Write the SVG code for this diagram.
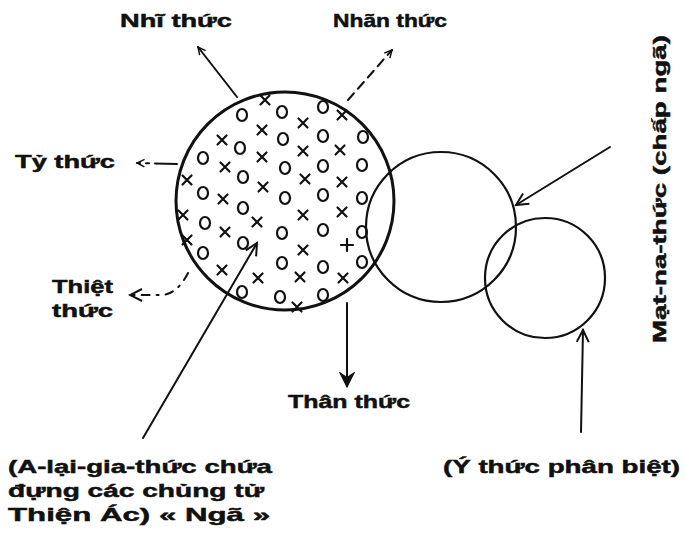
<svg xmlns="http://www.w3.org/2000/svg" width="685" height="533" viewBox="0 0 685 533">
<style>
  .lbl { font-family: "Liberation Sans", "DejaVu Sans", Arial, sans-serif; font-weight: bold; font-size: 19px; fill: #111; stroke: #111; stroke-width: 0.5; }
  .circ { fill: none; stroke: #111; }
  .conn { fill: none; stroke: #111; stroke-width: 2; stroke-linecap: round; }
  .o { fill: none; stroke: #111; stroke-width: 2.2; }
  .x { fill: none; stroke: #111; stroke-width: 2.2; stroke-linecap: round; }
</style>
<defs>
  <marker id="ah" viewBox="-14 -8 16 16" markerWidth="16" markerHeight="16" refX="0" refY="0" orient="auto" markerUnits="userSpaceOnUse">
    <path d="M-12,-6 L0,0 L-12,6" fill="none" stroke="#111" stroke-width="2"/>
  </marker>
  <marker id="ahs" viewBox="-14 -8 16 16" markerWidth="12" markerHeight="12" refX="0" refY="0" orient="auto" markerUnits="userSpaceOnUse">
    <path d="M-10,-5 L0,0 L-10,5" fill="none" stroke="#111" stroke-width="2"/>
  </marker>
  <marker id="ahb" viewBox="-14 -8 16 16" markerWidth="16" markerHeight="16" refX="0" refY="0" orient="auto" markerUnits="userSpaceOnUse">
    <path d="M-12,-6 L0,0 L-12,6 L-8,0 Z" fill="#111" stroke="#111" stroke-width="2"/>
  </marker>
  <g id="mo"><ellipse cx="0" cy="0" rx="5" ry="6" class="o"/></g>
  <g id="mx"><path d="M-4.5,-4.5 L4.5,4.5 M4.5,-4.5 L-4.5,4.5" class="x"/></g>
</defs>
<rect width="685" height="533" fill="#fff"/>

<g id="alaya">
  <circle class="circ" cx="285" cy="201" r="109" stroke-width="3"/>
  <g id="seeds">
    <use href="#mo" x="242" y="115"/><use href="#mo" x="282" y="112"/><use href="#mo" x="323" y="107"/>
    <use href="#mo" x="283" y="139"/><use href="#mo" x="323" y="136"/><use href="#mo" x="363" y="137"/>
    <use href="#mo" x="240" y="148"/><use href="#mo" x="203" y="158"/><use href="#mo" x="285" y="168"/>
    <use href="#mo" x="323" y="166"/><use href="#mo" x="362" y="165"/><use href="#mo" x="243" y="177"/>
    <use href="#mo" x="203" y="193"/><use href="#mo" x="285" y="198"/><use href="#mo" x="323" y="195"/>
    <use href="#mo" x="362" y="198"/><use href="#mo" x="243" y="208"/><use href="#mo" x="205" y="223"/>
    <use href="#mo" x="282" y="233"/><use href="#mo" x="323" y="230"/><use href="#mo" x="362" y="232"/>
    <use href="#mo" x="243" y="243"/><use href="#mo" x="203" y="253"/><use href="#mo" x="282" y="263"/>
    <use href="#mo" x="323" y="267"/><use href="#mo" x="362" y="262"/><use href="#mo" x="242" y="292"/>
    <use href="#mo" x="280" y="297"/><use href="#mo" x="323" y="295"/>
    <use href="#mx" x="265" y="100"/><use href="#mx" x="342" y="115"/><use href="#mx" x="262" y="130"/>
    <use href="#mx" x="303" y="123"/><use href="#mx" x="222" y="140"/><use href="#mx" x="262" y="157"/>
    <use href="#mx" x="303" y="151"/><use href="#mx" x="340" y="150"/><use href="#mx" x="225" y="167"/>
    <use href="#mx" x="187" y="180"/><use href="#mx" x="305" y="179"/><use href="#mx" x="342" y="182"/>
    <use href="#mx" x="263" y="187"/><use href="#mx" x="223" y="199"/><use href="#mx" x="257" y="222"/>
    <use href="#mx" x="183" y="215"/><use href="#mx" x="303" y="215"/><use href="#mx" x="342" y="212"/>
    <use href="#mx" x="225" y="232"/><use href="#mx" x="187" y="240"/><use href="#mx" x="303" y="250"/>
    <use href="#mx" x="222" y="270"/><use href="#mx" x="258" y="278"/><use href="#mx" x="300" y="277"/>
    <use href="#mx" x="343" y="278"/><use href="#mx" x="297" y="307"/>
    <path d="M341,245 L353,245 M347,239 L347,251" class="x"/>
  </g>
</g>

<g id="manas">
  <circle class="circ" cx="441" cy="227" r="75" stroke-width="2.2"/>
</g>

<g id="mano">
  <circle class="circ" cx="545" cy="278" r="60" stroke-width="2.2"/>
</g>

<g id="connectors">
  <line class="conn" x1="237" y1="97" x2="198" y2="47" marker-end="url(#ahs)"/>
  <line class="conn" x1="348" y1="100" x2="392" y2="50" stroke-dasharray="9,6" marker-end="url(#ahs)"/>
  <line class="conn" x1="177" y1="164" x2="137" y2="163" stroke-dasharray="22,6,3,6" marker-end="url(#ahs)"/>
  <path class="conn" d="M188,273 Q178,293 163,295 L130,295" stroke-dasharray="8,7,2,7" marker-end="url(#ah)"/>
  <line class="conn" x1="347" y1="303" x2="347" y2="386" stroke-width="2.4" marker-end="url(#ahb)"/>
  <line class="conn" x1="143" y1="438" x2="257" y2="243" marker-end="url(#ah)"/>
  <line class="conn" x1="610" y1="147" x2="516" y2="205" marker-end="url(#ah)"/>
  <line class="conn" x1="581" y1="432" x2="583" y2="330" stroke-width="2.4" marker-end="url(#ah)"/>
</g>

<g id="labels">
  <text class="lbl" x="120" y="27" textLength="112" lengthAdjust="spacingAndGlyphs">Nhĩ thức</text>
  <text class="lbl" x="333" y="27" textLength="114" lengthAdjust="spacingAndGlyphs">Nhãn thức</text>
  <text class="lbl" x="15" y="168" textLength="100" lengthAdjust="spacingAndGlyphs">Tỷ  thức</text>
  <text class="lbl" x="52" y="293" textLength="61" lengthAdjust="spacingAndGlyphs">Thiệt</text>
  <text class="lbl" x="52" y="317" textLength="61" lengthAdjust="spacingAndGlyphs">thức</text>
  <text class="lbl" x="288" y="408" textLength="122" lengthAdjust="spacingAndGlyphs">Thân thức</text>
  <text class="lbl" x="8" y="473" textLength="264" lengthAdjust="spacingAndGlyphs">(A-lại-gia-thức chứa</text>
  <text class="lbl" x="8" y="497" textLength="256" lengthAdjust="spacingAndGlyphs">đựng các chủng tử</text>
  <text class="lbl" x="8" y="521" textLength="262" lengthAdjust="spacingAndGlyphs">Thiện  Ác)   « Ngã »</text>
  <text class="lbl" x="443" y="473" textLength="237" lengthAdjust="spacingAndGlyphs">(Ý thức phân biệt)</text>
  <text class="lbl" transform="translate(666,343) rotate(-90)" x="0" y="0" textLength="308" lengthAdjust="spacingAndGlyphs">Mạt-na-thức (chấp ngã)</text>
</g>
</svg>
